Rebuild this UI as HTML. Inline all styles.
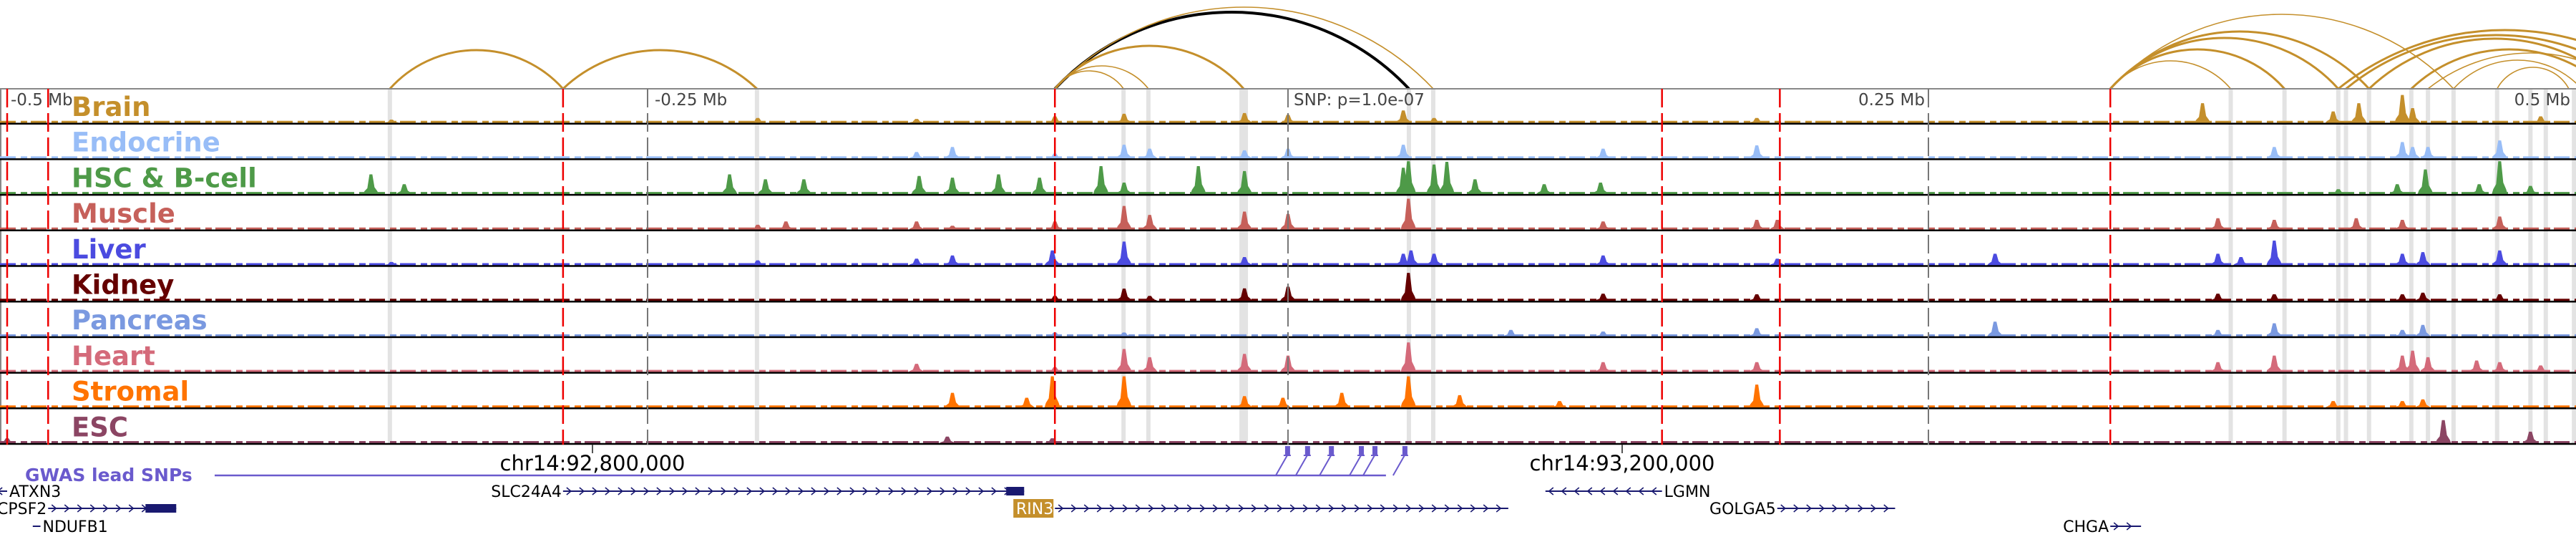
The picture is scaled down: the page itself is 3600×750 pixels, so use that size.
<!DOCTYPE html>
<html><head><meta charset="utf-8">
<style>
html,body{margin:0;padding:0;background:#fff;}
svg{display:block;font-family:"DejaVu Sans","Liberation Sans",sans-serif;}
</style></head>
<body>
<svg id="chart" width="3600" height="750" viewBox="0 0 3600 750" xmlns="http://www.w3.org/2000/svg">
<rect x="0" y="0" width="3600" height="750" fill="#fff"/>
<g id="hl"></g>
<g id="arcs"></g>
<g id="tracks"></g>
<g id="vlines"></g>
<g id="labels"></g>
<g id="axis"></g>
<g id="genes"></g>
</svg>
<script>
// ---- data (kb offset from lead SNP) ----
const trackNames = ["Brain","Endocrine","HSC & B-cell","Muscle","Liver","Kidney","Pancreas","Heart","Stromal","ESC"];
const trackColors = ["#c48f2b","#98bdf7","#4e9a48","#c6605a","#4b4be0","#650000","#7a99e0","#d46a7a","#ff7300","#8b4563"];
const brainPeaks = [[-350,0.1],[-207,0.15],[-145,0.12],[-91,0.2],[-64,0.28],[-17,0.3],[0,0.25],[45,0.38],[57,0.15],[183,0.15],[357,0.6],[408,0.35],[418,0.6],[435,0.85],[439,0.45],[489,0.2]];
const endocrinePeaks = [[-145,0.2],[-131,0.35],[-91,0.15],[-64,0.42],[-54,0.3],[-17,0.25],[0,0.3],[45,0.42],[123,0.3],[183,0.4],[385,0.35],[435,0.5],[439,0.35],[445,0.35],[473,0.55]];
const hscPeaks = [[-358,0.6],[-345,0.3],[-218,0.6],[-204,0.45],[-189,0.45],[-144,0.55],[-131,0.5],[-113,0.6],[-97,0.5],[-73,0.85],[-64,0.35],[-35,0.85],[-17,0.7],[45,0.8],[47,1.0],[57,0.9],[62,0.98],[73,0.45],[100,0.3],[122,0.35],[410,0.15],[433,0.3],[444,0.75],[465,0.3],[473,1.0],[485,0.25]];
const musclePeaks = [[-207,0.15],[-196,0.25],[-145,0.25],[-131,0.12],[-91,0.25],[-64,0.72],[-54,0.45],[-17,0.55],[0,0.48],[47,0.94],[123,0.25],[183,0.3],[191,0.3],[363,0.35],[385,0.3],[417,0.35],[435,0.3],[473,0.4]];
const liverPeaks = [[-350,0.1],[-207,0.15],[-145,0.2],[-131,0.3],[-92,0.45],[-64,0.72],[-17,0.25],[45,0.35],[48,0.45],[57,0.35],[123,0.3],[191,0.2],[276,0.35],[363,0.35],[372,0.25],[385,0.75],[435,0.35],[443,0.4],[473,0.45]];
const kidneyPeaks = [[-91,0.15],[-64,0.37],[-54,0.15],[-17,0.38],[0,0.43],[47,0.85],[123,0.22],[183,0.2],[363,0.22],[385,0.2],[435,0.2],[443,0.25],[473,0.2]];
const pancreasPeaks = [[-91,0.12],[-64,0.12],[87,0.2],[123,0.15],[183,0.25],[276,0.45],[363,0.2],[385,0.4],[443,0.35],[435,0.2]];
const heartPeaks = [[-145,0.25],[-91,0.15],[-64,0.7],[-54,0.45],[-17,0.55],[0,0.5],[47,0.9],[123,0.3],[183,0.3],[363,0.3],[385,0.5],[435,0.5],[439,0.65],[445,0.45],[464,0.35],[473,0.3],[489,0.2]];
const stromalPeaks = [[-131,0.45],[-102,0.3],[-92,0.95],[-64,0.95],[-17,0.35],[-2,0.3],[21,0.45],[47,0.95],[67,0.38],[106,0.2],[183,0.7],[408,0.2],[435,0.2],[443,0.25]];
const escPeaks = [[-500,0.15],[-133,0.2],[-92,0.15],[451,0.7],[485,0.35]];
const allPeaks = [brainPeaks,endocrinePeaks,hscPeaks,musclePeaks,liverPeaks,kidneyPeaks,pancreasPeaks,heartPeaks,stromalPeaks,escPeaks];
const highlightKb = [-350.6,-207.3,-64.2,-54.5,-17.3,47.2,56.7,368,389,410,413,422,438.5,445,455,472,485,491,502];
const redLinesKb = [-500,-484,-283,-91,146,192,321];
const grayLinesKb = [-250,0,250];
const axisLabels = ["-0.5 Mb","-0.25 Mb","SNP: p=1.0e-07","0.25 Mb","0.5 Mb"];
const arcStart = [-350.6,-283,-91,-91,-91,-91,-91,321,321,321,321,321,410,413,422,438.5,445,455,472];
const arcEnd   = [-283,-207.3,47.2,56.7,-17.3,-54.5,-64.2,368,389,410,422,455,540,530,520,515,525,505,500];
const arcScore = [54,54,107,114,60,32,25,39,55,71,80,104,82,75,70,55,50,40,30];
const arcBlack = [0,0,1,0,0,0,0,0,0,0,0,0,0,0,0,0,0,0,0];
const snpKb = [-0.3,7.5,16.8,28.5,33.8,45.5];
const genes = [
 {name:"ATXN3",s:-505,e:-500,row:0,strand:-1,side:"right"},
 {name:"CPSF2",s:-484,e:-434,row:1,strand:1,side:"left",exon:[-446,-434]},
 {name:"NDUFB1",s:-490,e:-487,row:2,strand:-1,side:"right"},
 {name:"SLC24A4",s:-283,e:-103,row:0,strand:1,side:"left",exon:[-110,-103]},
 {name:"RIN3",s:-91,e:86,row:1,strand:1,side:"left",hl:true},
 {name:"LGMN",s:100.5,e:146,row:0,strand:-1,side:"right"},
 {name:"GOLGA5",s:191,e:237,row:1,strand:1,side:"left"},
 {name:"CHGA",s:321,e:333,row:2,strand:1,side:"left"}
];
// ---- scales ----
const NS="http://www.w3.org/2000/svg";
const X = kb => 1800 + kb*3.58;
const TOP=124, TH=49.7, PEAKH=46;
function mk(tag,attrs,parent){const e=document.createElementNS(NS,tag);for(const k in attrs)e.setAttribute(k,attrs[k]);parent.appendChild(e);return e;}
const g=id=>document.getElementById(id);
const BOTTOM = TOP+TH*10;
highlightKb.forEach(kb=>{
  const w = kb===-17.3?12:6;
  const r=mk('rect',{x:X(kb)-w/2,y:TOP,width:w,height:BOTTOM-TOP,fill:'#e3e3e3'},g('hl'));
  
  
});
// arcs as circular segments
arcStart.forEach((s,i)=>{
  const x1=X(s),x2=X(arcEnd[i]),sag=arcScore[i],c=x2-x1;
  const r=(c*c/4+sag*sag)/(2*sag);
  const blk=arcBlack[i];
  const p=mk('path',{d:`M${x1},${TOP} A${r},${r} 0 0 1 ${x2},${TOP}`,fill:'none',stroke:blk?'#000':'#c48f2b','stroke-width':blk?4:(arcScore[i]>50&&arcScore[i]<90?3:1.6)},g('arcs'));
  
  
});
mk('line',{x1:0,y1:TOP,x2:3600,y2:TOP,stroke:'#888','stroke-width':2},g('tracks'));
mk('line',{x1:1,y1:TOP,x2:1,y2:BOTTOM,stroke:'#888','stroke-width':2},g('tracks'));
trackNames.forEach((n,i)=>{
  const base=TOP+TH*(i+1)-2, col=trackColors[i];
  const tg=mk('g',{},g('tracks'));
  
  
  mk('line',{x1:0,y1:base-1.5,x2:3600,y2:base-1.5,stroke:col,'stroke-width':3,'stroke-dasharray':'22 7 9 5'},tg);
  allPeaks[i].forEach(([kb,h])=>{
    const x=X(kb),hh=Math.min(h,1)*PEAKH;
    const p=mk('polygon',{points:`${x-11},${base} ${x-9},${base-hh*0.15} ${x-5},${base-hh*0.3} ${x-2},${base-hh} ${x+2},${base-hh} ${x+5},${base-hh*0.35} ${x+9},${base-hh*0.15} ${x+11},${base}`,fill:col},tg);
    
    
  });
  mk('line',{x1:0,y1:base+1,x2:3600,y2:base+1,stroke:'#000','stroke-width':2.5},tg);
  const t=mk('text',{x:100,y:TOP+TH*i+38,fill:col,'font-size':37,'font-weight':'bold'},g('labels'));
  t.textContent=n;
  
  
});
redLinesKb.forEach(kb=>{
  const l=mk('line',{x1:X(kb),y1:TOP,x2:X(kb),y2:BOTTOM,stroke:'#e00','stroke-width':2.5,'stroke-dasharray':'26 8'},g('vlines'));
  
  
});
grayLinesKb.forEach(kb=>{
  const l=mk('line',{x1:X(kb),y1:TOP,x2:X(kb),y2:BOTTOM,stroke:'#777','stroke-width':2,'stroke-dasharray':'26 8'},g('vlines'));
  
  
});
const lblPos=[[X(-500)+5,'start'],[X(-250)+10,'start'],[X(0)+8,'start'],[X(250)-5,'end'],[3592,'end']];
axisLabels.forEach((s,i)=>{
  const t=mk('text',{x:lblPos[i][0],y:147,fill:'#444','font-size':23,'text-anchor':lblPos[i][1]},g('axis'));
  t.textContent=s;
  
  
});
[[828,"chr14:92,800,000"],[2267,"chr14:93,200,000"]].forEach(([x,s])=>{
  mk('line',{x1:x,y1:BOTTOM,x2:x,y2:BOTTOM+12,stroke:'#555','stroke-width':2},g('axis'));
  const t=mk('text',{x:x,y:657,fill:'#000','font-size':29,'text-anchor':'middle'},g('axis'));
  t.textContent=s;
  
  
});
const gw=g('genes');
const gl=mk('text',{x:35,y:672,fill:'#6a5acd','font-size':25,'font-weight':'bold'},gw);
gl.textContent="GWAS lead SNPs";


const bx=snpKb.map(k=>X(k)-16);
mk('line',{x1:300,y1:664,x2:bx[bx.length-1]-10,y2:664,stroke:'#6a5acd','stroke-width':2.5},gw);
snpKb.forEach((k,i)=>{
  const x=X(k);
  const r=mk('rect',{x:x-3,y:623,width:7,height:12,fill:'#6a5acd'},gw);
  
  
  mk('line',{x1:x-5,y1:636,x2:x+5,y2:636,stroke:'#6a5acd','stroke-width':2},gw);
  mk('line',{x1:x,y1:636,x2:bx[i],y2:664,stroke:'#6a5acd','stroke-width':2},gw);
});
const rowY=[686,710,735];
genes.forEach(gn=>{
  const y=rowY[gn.row], x1=X(gn.s), x2=X(gn.e);
  const gg=mk('g',{},gw);
  
  
  mk('line',{x1:x1,y1:y,x2:x2,y2:y,stroke:'#191970','stroke-width':2},gg);
  for(let x=x1+8;x<x2-4;x+=18){
    const d=gn.strand>0?`M${x-3},${y-5} L${x+3},${y} L${x-3},${y+5}`:`M${x+3},${y-5} L${x-3},${y} L${x+3},${y+5}`;
    mk('path',{d:d,fill:'none',stroke:'#191970','stroke-width':1.6},gg);
  }
  if(gn.exon) mk('rect',{x:X(gn.exon[0]),y:y-6,width:X(gn.exon[1])-X(gn.exon[0]),height:12,fill:'#191970'},gg);
  const lx=gn.side==='left'?x1-2:x2+3;
  const anchor=gn.side==='left'?'end':'start';
  if(gn.hl) mk('rect',{x:x1-58,y:y-13,width:56,height:26,fill:'#c48f2b'},gg);
  const t=mk('text',{x:lx,y:y+8,'font-size':22,fill:gn.hl?'#fff':'#000','text-anchor':anchor},gg);
  t.textContent=gn.name;
  
  
});
</script>
</body></html>
